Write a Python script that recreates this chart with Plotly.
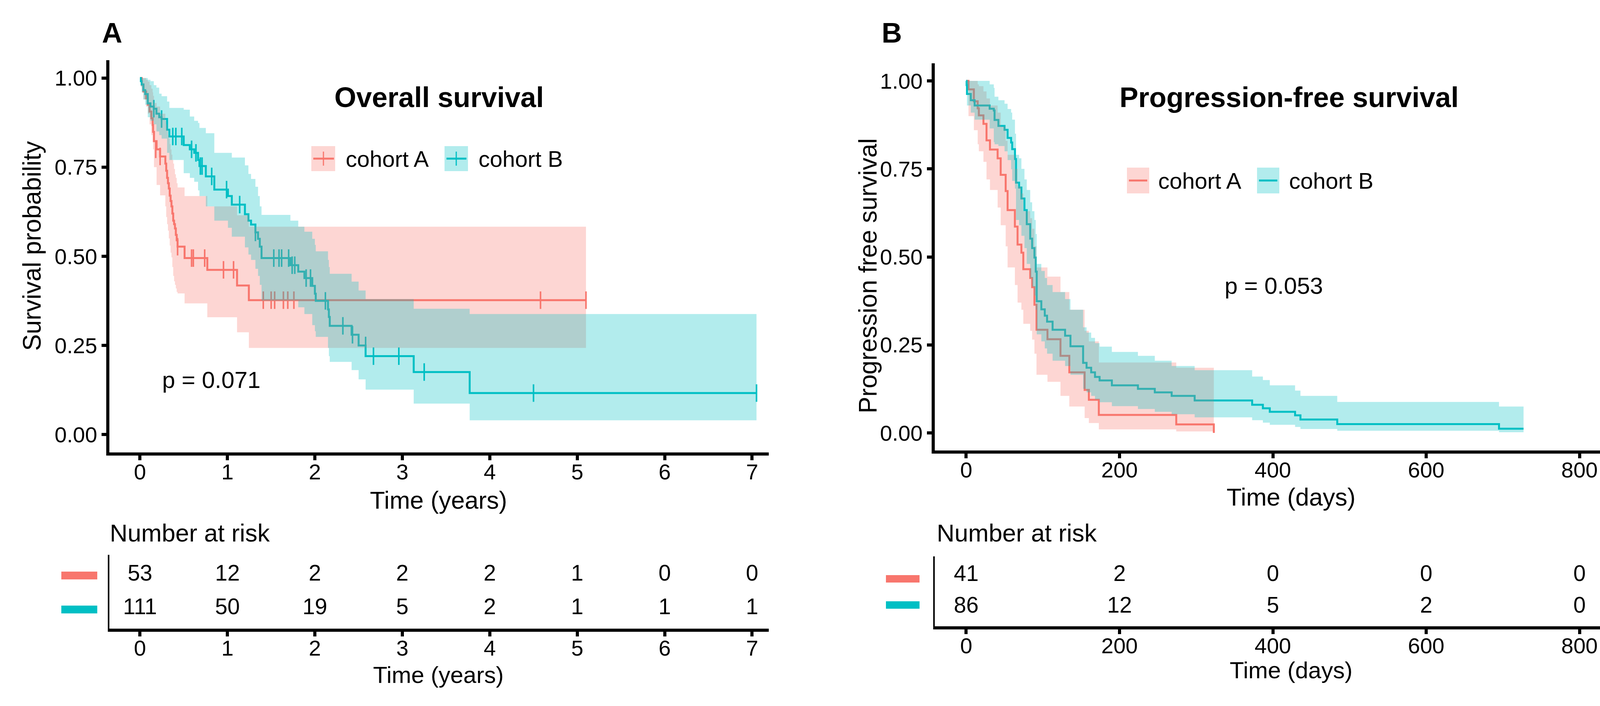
import plotly.graph_objects as go

W, H = 4177, 1807
FONT = "Liberation Sans"
RED = "#F8766D"
TEAL = "#00BFC4"
RED_F = "rgba(248,118,109,0.3)"
TEAL_F = "rgba(0,191,196,0.3)"

# ---------------- Panel A : Overall survival (years) ----------------
a_t = [0, 0.02, 0.04, 0.07, 0.09, 0.11, 0.13, 0.145, 0.15, 0.16, 0.19, 0.23, 0.29, 0.30, 0.31, 0.32,
       0.33, 0.34, 0.35, 0.36, 0.37, 0.38, 0.39, 0.40, 0.41, 0.42, 0.43, 0.51, 0.77, 1.11, 1.245, 5.10]
a_s = [1.0, 0.981, 0.962, 0.943, 0.925, 0.906, 0.887, 0.868, 0.849, 0.823, 0.80, 0.78, 0.76, 0.74, 0.72, 0.705,
       0.69, 0.67, 0.655, 0.64, 0.62, 0.60, 0.59, 0.578, 0.56, 0.545, 0.527, 0.495, 0.462, 0.418, 0.377, 0.377]
a_up = [1.0, 1.0, 1.0, 0.995, 0.99, 0.98, 0.97, 0.96, 0.95, 0.93, 0.92, 0.90, 0.88, 0.87, 0.855, 0.84,
        0.83, 0.815, 0.80, 0.785, 0.77, 0.76, 0.745, 0.73, 0.72, 0.705, 0.693, 0.669, 0.64, 0.615, 0.583, 0.583]
a_lo = [1.0, 0.96, 0.94, 0.92, 0.90, 0.87, 0.84, 0.82, 0.80, 0.75, 0.70, 0.671, 0.64, 0.61, 0.59, 0.572,
        0.55, 0.53, 0.51, 0.497, 0.47, 0.445, 0.43, 0.42, 0.41, 0.40, 0.396, 0.368, 0.329, 0.287, 0.243, 0.243]
a_cens_t = [0.18, 0.23, 0.43, 0.59, 0.61, 0.74, 0.955, 1.07, 1.41, 1.50, 1.54, 1.64, 1.69, 1.76, 4.58, 5.10]
a_cens_s = [0.80, 0.78, 0.527, 0.495, 0.495, 0.495, 0.462, 0.462, 0.377, 0.377, 0.377, 0.377, 0.377, 0.377, 0.377, 0.377]

b_t = [0, 0.01, 0.02, 0.039, 0.06, 0.089, 0.12, 0.158, 0.188, 0.22, 0.247, 0.31, 0.336, 0.50, 0.57, 0.62,
       0.664, 0.68, 0.753, 0.85, 1.006, 1.05, 1.20, 1.24, 1.27, 1.32, 1.35, 1.37, 1.39, 1.72, 1.81, 1.88,
       1.97, 2.0, 2.01, 2.15, 2.16, 2.17, 2.42, 2.5, 2.58, 3.13, 3.77, 7.05]
b_s = [1.0, 0.991, 0.982, 0.966, 0.955, 0.929, 0.92, 0.914, 0.90, 0.89, 0.885, 0.855, 0.836, 0.812, 0.80, 0.79,
       0.77, 0.753, 0.724, 0.687, 0.669, 0.645, 0.618, 0.60, 0.589, 0.567, 0.549, 0.527, 0.495, 0.475, 0.457, 0.439,
       0.417, 0.395, 0.375, 0.351, 0.33, 0.305, 0.28, 0.25, 0.22, 0.1755, 0.1165, 0.1165]
b_up = [1.0, 1.0, 1.0, 1.0, 1.0, 0.995, 0.991, 0.98, 0.973, 0.956, 0.949, 0.934, 0.916, 0.911, 0.892, 0.88,
        0.874, 0.86, 0.845, 0.79, 0.79, 0.777, 0.755, 0.731, 0.717, 0.695, 0.669, 0.64, 0.616, 0.60, 0.583, 0.569,
        0.549, 0.532, 0.514, 0.49, 0.47, 0.451, 0.429, 0.404, 0.38, 0.353, 0.338, 0.338]
b_lo = [1.0, 0.975, 0.96, 0.94, 0.925, 0.89, 0.88, 0.87, 0.85, 0.84, 0.83, 0.79, 0.77, 0.733, 0.72, 0.709,
        0.685, 0.669, 0.64, 0.60, 0.58, 0.555, 0.525, 0.505, 0.49, 0.465, 0.445, 0.42, 0.376, 0.376, 0.357, 0.338,
        0.307, 0.29, 0.274, 0.243, 0.22, 0.204, 0.181, 0.155, 0.126, 0.087, 0.04, 0.04]
b_cens_t = [0.158, 0.247, 0.375, 0.41, 0.478, 0.59, 0.64, 0.69, 0.71, 0.82, 0.99, 1.14, 1.32, 1.53, 1.59, 1.62,
            1.70, 1.74, 1.77, 1.90, 1.95, 2.12, 2.32, 2.43, 2.58, 2.67, 2.96, 3.25, 4.5, 7.05]
b_cens_s = [0.914, 0.885, 0.836, 0.836, 0.836, 0.80, 0.79, 0.753, 0.753, 0.724, 0.687, 0.645, 0.567, 0.495, 0.495, 0.495,
            0.495, 0.475, 0.475, 0.439, 0.439, 0.375, 0.305, 0.28, 0.25, 0.22, 0.22, 0.1755, 0.1165, 0.1165]

risk_a_times = [0, 1, 2, 3, 4, 5, 6, 7]
risk_a_cohortA = [53, 12, 2, 2, 2, 1, 0, 0]
risk_a_cohortB = [111, 50, 19, 5, 2, 1, 1, 1]

# ---------------- Panel B : Progression-free survival (days) ----------------
c_t = [0, 3, 10, 15, 16.5, 22.5, 26.5, 31, 41, 45, 51.5, 54, 63.5, 67, 72, 74.5, 83.5, 86, 89, 91.7,
       106, 123, 134.5, 154.5, 160, 173, 274, 323]
c_s = [1.0, 0.976, 0.942, 0.922, 0.902, 0.878, 0.831, 0.805, 0.78, 0.733, 0.687, 0.633, 0.586, 0.535, 0.512, 0.465,
       0.44, 0.414, 0.364, 0.293, 0.266, 0.219, 0.172, 0.122, 0.094, 0.051, 0.024, 0.0]
c_up = [1.0, 1.0, 1.0, 0.99, 0.985, 0.97, 0.95, 0.93, 0.91, 0.87, 0.83, 0.79, 0.75, 0.70, 0.68, 0.63,
        0.61, 0.58, 0.53, 0.47, 0.444, 0.40, 0.35, 0.29, 0.26, 0.20, 0.185, 0.185]
c_lo = [1.0, 0.90, 0.86, 0.82, 0.80, 0.77, 0.72, 0.69, 0.64, 0.59, 0.53, 0.47, 0.42, 0.37, 0.35, 0.31,
        0.29, 0.265, 0.225, 0.165, 0.145, 0.105, 0.075, 0.042, 0.028, 0.01, 0.004, 0.004]

d_t = [0, 0.5, 1, 6, 11, 30.6, 36, 37, 42, 50, 54, 58.6, 60, 63.6, 65, 69, 72, 76, 79, 83.5,
       86, 89, 90.7, 92, 98, 102.5, 105.5, 112.7, 129, 136, 152.5, 157, 163, 168, 174, 190, 224, 246, 268, 298,
       373, 387, 396, 429, 436, 484, 695, 727]
d_s = [1.0, 0.988, 0.963, 0.945, 0.93, 0.921, 0.916, 0.889, 0.872, 0.861, 0.838, 0.825, 0.806, 0.778, 0.711, 0.697,
       0.666, 0.633, 0.593, 0.552, 0.525, 0.498, 0.458, 0.374, 0.351, 0.333, 0.316, 0.293, 0.276, 0.246, 0.199, 0.185,
       0.172, 0.159, 0.149, 0.135, 0.125, 0.115, 0.105, 0.092, 0.08, 0.07, 0.06, 0.05, 0.038, 0.025, 0.012, 0.012]
d_up = [1.0, 1.0, 1.0, 1.0, 1.0, 0.99, 0.98, 0.955, 0.945, 0.935, 0.92, 0.91, 0.89, 0.85, 0.79, 0.78,
        0.75, 0.72, 0.69, 0.655, 0.63, 0.605, 0.565, 0.48, 0.46, 0.44, 0.42, 0.40, 0.38, 0.35, 0.30, 0.285,
        0.27, 0.255, 0.245, 0.23, 0.219, 0.205, 0.19, 0.178, 0.16, 0.15, 0.135, 0.12, 0.105, 0.088, 0.075, 0.075]
d_lo = [1.0, 0.965, 0.93, 0.91, 0.89, 0.865, 0.826, 0.82, 0.815, 0.80, 0.775, 0.749, 0.716, 0.694, 0.605, 0.59,
        0.56, 0.525, 0.48, 0.44, 0.415, 0.39, 0.35, 0.28, 0.26, 0.24, 0.225, 0.205, 0.19, 0.165, 0.125, 0.115,
        0.105, 0.095, 0.087, 0.076, 0.068, 0.06, 0.053, 0.044, 0.036, 0.029, 0.023, 0.017, 0.011, 0.006, 0.002, 0.002]

risk_b_times = [0, 200, 400, 600, 800]
risk_b_cohortA = [41, 2, 0, 0, 0]
risk_b_cohortB = [86, 12, 5, 2, 0]


def px(x):
    return x / W


def py(y):
    return 1 - y / H


fig = go.Figure()


def add_lines(t_a, s_a, t_b, s_b, xa, ya):
    for t, s, col in ((t_a, s_a, RED), (t_b, s_b, TEAL)):
        fig.add_trace(go.Scatter(x=t, y=s, mode="lines", line=dict(color=col, width=5, shape="hv"),
                                 showlegend=False, hoverinfo="skip", xaxis=xa, yaxis=ya))


def add_ribbons(t_a, up_a, lo_a, t_b, up_b, lo_b, xa, ya):
    for t, up, lo, fc in ((t_a, up_a, lo_a, RED_F), (t_b, up_b, lo_b, TEAL_F)):
        fig.add_trace(go.Scatter(x=t, y=lo, mode="lines", line=dict(width=0, shape="hv"),
                                 showlegend=False, hoverinfo="skip", xaxis=xa, yaxis=ya))
        fig.add_trace(go.Scatter(x=t, y=up, mode="lines", line=dict(width=0, shape="hv"),
                                 fill="tonexty", fillcolor=fc,
                                 showlegend=False, hoverinfo="skip", xaxis=xa, yaxis=ya))


# Panel A
add_lines(a_t, a_s, b_t, b_s, "x", "y")
for ct, cs, col in ((a_cens_t, a_cens_s, RED), (b_cens_t, b_cens_s, TEAL)):
    fig.add_trace(go.Scatter(x=ct, y=cs, mode="markers",
                             marker=dict(symbol="line-ns", size=32, line=dict(width=4, color=col), color=col),
                             showlegend=False, hoverinfo="skip", xaxis="x", yaxis="y"))
add_ribbons(a_t, a_up, a_lo, b_t, b_up, b_lo, "x", "y")

# Panel B
add_lines(c_t, c_s, d_t, d_s, "x3", "y3")
add_ribbons(c_t, c_up, c_lo, d_t, d_up, d_lo, "x3", "y3")

# Risk tables
RT = 57
for xs, vals, row, xa, ya in ((risk_a_times, risk_a_cohortA, 2, "x2", "y2"),
                              (risk_a_times, risk_a_cohortB, 1, "x2", "y2"),
                              (risk_b_times, risk_b_cohortA, 2, "x4", "y4"),
                              (risk_b_times, risk_b_cohortB, 1, "x4", "y4")):
    fig.add_trace(go.Scatter(x=xs, y=[row] * len(xs), mode="text",
                             text=[str(v) for v in vals], textfont=dict(family=FONT, size=RT, color="black"),
                             showlegend=False, hoverinfo="skip", xaxis=xa, yaxis=ya))

TICKF = dict(family=FONT, size=56, color="black")
common = dict(showline=True, linecolor="black", linewidth=8, ticks="outside", ticklen=12, tickwidth=8,
              tickcolor="black", showgrid=False, zeroline=False, tickfont=TICKF)
xcommon = dict(common, ticklabelstandoff=-18)

yv = [0, 0.25, 0.5, 0.75, 1.0]
yt = ["0.00", "0.25", "0.50", "0.75", "1.00"]

fig.update_layout(
    width=W, height=H, margin=dict(l=0, r=0, t=0, b=0),
    paper_bgcolor="white", plot_bgcolor="white", showlegend=False,
    xaxis=dict(domain=[px(280), px(1968)], range=[-0.35, 7.19], tickvals=list(range(8)), anchor="y", **xcommon),
    yaxis=dict(domain=[py(1158), py(154)], range=[-0.05, 1.05], tickvals=yv, ticktext=yt, anchor="x", **common),
    xaxis2=dict(domain=[px(280), px(1968)], range=[-0.35, 7.19], tickvals=list(range(8)), anchor="y2", **xcommon),
    yaxis2=dict(domain=[py(1609), py(1420)], range=[0.4, 2.6], anchor="x2", showline=True, linecolor="black",
                linewidth=4, showticklabels=False, ticks="", showgrid=False, zeroline=False),
    xaxis3=dict(domain=[px(2393), px(4124)], range=[-41, 841], tickvals=[0, 200, 400, 600, 800], anchor="y3", **xcommon),
    yaxis3=dict(domain=[py(1153), py(162)], range=[-0.05, 1.05], tickvals=yv, ticktext=yt, anchor="x3", **common),
    xaxis4=dict(domain=[px(2393), px(4124)], range=[-41, 841], tickvals=[0, 200, 400, 600, 800], anchor="y4", **xcommon),
    yaxis4=dict(domain=[py(1603), py(1424)], range=[0.4, 2.6], anchor="x4", showline=True, linecolor="black",
                linewidth=4, showticklabels=False, ticks="", showgrid=False, zeroline=False),
)

ann = []


def text(x, y, s, size, xanchor="center", angle=0, bold=False):
    ann.append(dict(x=px(x), y=py(y), xref="paper", yref="paper", text=("<b>%s</b>" % s) if bold else s,
                    showarrow=False, xanchor=xanchor, yanchor="middle", textangle=angle,
                    font=dict(family=FONT, size=size, color="black")))


text(287, 84, "A", 72, bold=True)
text(2283, 84, "B", 72, bold=True)
text(1124, 249, "Overall survival", 72, bold=True)
text(3300, 249, "Progression-free survival", 72, bold=True)
text(82, 630, "Survival probability", 64, angle=-90)
text(2222, 706, "Progression free survival", 64, angle=-90)
text(1122, 1280, "Time (years)", 63)
text(3305, 1272, "Time (days)", 63)
text(541, 972, "p = 0.071", 60)
text(3261, 732, "p = 0.053", 60)
text(279, 1364, "Number at risk", 63, xanchor="left")
text(2396, 1364, "Number at risk", 63, xanchor="left")
text(1122, 1727, "Time (years)", 60)
text(3305, 1715, "Time (days)", 60)
text(883, 406, "cohort A", 58, xanchor="left")
text(1223, 406, "cohort B", 58, xanchor="left")
text(2963, 462, "cohort A", 58, xanchor="left")
text(3298, 462, "cohort B", 58, xanchor="left")

shapes = []


def rect(x0, y0, x1, y1, color):
    shapes.append(dict(type="rect", xref="paper", yref="paper", x0=px(x0), x1=px(x1), y0=py(y1), y1=py(y0),
                       fillcolor=color, line=dict(width=0), layer="above"))


def seg(x0, y0, x1, y1, color, w):
    shapes.append(dict(type="line", xref="paper", yref="paper", x0=px(x0), x1=px(x1), y0=py(y0), y1=py(y1),
                       line=dict(color=color, width=w), layer="above"))


# legend keys panel A
rect(797, 374, 858, 438, RED_F)
seg(802, 406, 855, 406, RED, 5)
seg(828, 388, 828, 424, RED, 3)
rect(1138, 374, 1198, 438, TEAL_F)
seg(1143, 406, 1194, 406, TEAL, 5)
seg(1168, 388, 1168, 424, TEAL, 3)
# legend keys panel B
rect(2885, 429, 2942, 495, RED_F)
seg(2890, 462, 2937, 462, RED, 5)
rect(3218, 429, 3275, 495, TEAL_F)
seg(3223, 462, 3270, 462, TEAL, 5)
# risk-table strata bars
rect(157, 1463, 249, 1483, RED)
rect(157, 1550, 249, 1570, TEAL)
rect(2268, 1472, 2354, 1491, RED)
rect(2268, 1539, 2354, 1558, TEAL)

fig.update_layout(annotations=ann, shapes=shapes)
fig.write_html("out.html", config={"displayModeBar": False},
               post_script="document.body.style.margin='0px';document.body.style.overflow='hidden';")
